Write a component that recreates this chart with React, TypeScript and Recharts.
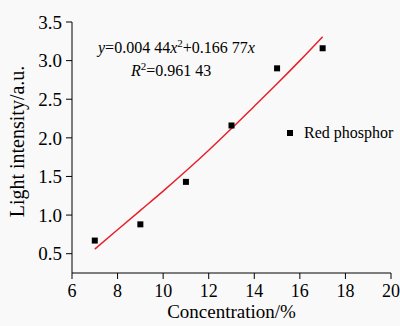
import React from "react";
import {
  ComposedChart,
  Line,
  Scatter,
  XAxis,
  YAxis,
} from "recharts";

// measured points
const concentration = [7, 9, 11, 13, 15, 17];
const intensity = [0.67, 0.88, 1.43, 2.16, 2.9, 3.16];

// fitted curve
const fitX = [7, 8, 9, 10, 11, 12, 13, 14, 15, 16, 17];
const fitY = [0.56, 0.81, 1.06, 1.31, 1.57, 1.84, 2.12, 2.41, 2.7, 3.0, 3.31];

const xTicks = [6, 8, 10, 12, 14, 16, 18, 20];
const yTicks = [0.5, 1.0, 1.5, 2.0, 2.5, 3.0, 3.5];

const points = concentration.map((x, i) => ({ x, y: intensity[i] }));
const fit = fitX.map((x, i) => ({ x, fit: fitY[i] }));

const FONT = "'Liberation Serif', 'Times New Roman', serif";

const Square = (props: any) => {
  const { cx, cy } = props;
  return <rect x={cx - 3} y={cy - 3} width={6} height={6} fill="#000" />;
};

const YLabel = (props: any) => {
  const vb = props.viewBox;
  const x = vb.x + 24;
  const y = vb.y + vb.height / 2 - 6;
  return (
    <text
      x={x}
      y={y}
      transform={`rotate(-90 ${x} ${y})`}
      textAnchor="middle"
      fontFamily={FONT}
      fontSize={20}
      fill="#000"
    >
      Light intensity/a.u.
    </text>
  );
};

const App: React.FC = () => {
  return (
    <div
      style={{
        position: "absolute",
        left: 0,
        top: 0,
        width: 400,
        height: 326,
        background: "#f9f9f9",
      }}
    >
      <ComposedChart
        width={400}
        height={326}
        margin={{ top: 22, right: 9, bottom: 0, left: 0 }}
      >
        <XAxis
          dataKey="x"
          type="number"
          domain={[6, 20]}
          ticks={xTicks}
          allowDataOverflow
          height={53}
          tickSize={6}
          tickMargin={5}
          stroke="#000"
          tick={{ fill: "#000", fontSize: 18, fontFamily: FONT }}
          label={{
            value: "Concentration/%",
            position: "insideBottom",
            offset: 8,
            fill: "#000",
            fontSize: 19,
            fontFamily: FONT,
          }}
        />
        <YAxis
          type="number"
          domain={[0.25, 3.5]}
          ticks={yTicks}
          allowDataOverflow
          width={72}
          tickSize={6}
          tickMargin={4}
          stroke="#000"
          tickFormatter={(v: number) => v.toFixed(1)}
          tick={{ fill: "#000", fontSize: 19, fontFamily: FONT }}
          label={<YLabel />}
        />
        <Line
          data={fit}
          dataKey="fit"
          type="monotone"
          stroke="#e8202a"
          strokeWidth={1.5}
          dot={false}
          activeDot={false}
          legendType="none"
          isAnimationActive={false}
        />
        <Scatter
          data={points}
          dataKey="y"
          name="Red phosphor"
          shape={<Square />}
          isAnimationActive={false}
        />
      </ComposedChart>
      <svg
        width={400}
        height={326}
        style={{ position: "absolute", left: 0, top: 0, pointerEvents: "none" }}
      >
        <text x={98} y={53} fontFamily={FONT} fontSize={16} fill="#000">
          <tspan fontStyle="italic">y</tspan>
          <tspan>=0.004 44</tspan>
          <tspan fontStyle="italic">x</tspan>
          <tspan dy={-6} fontSize={11}>2</tspan>
          <tspan dy={6}>+0.166 77</tspan>
          <tspan fontStyle="italic">x</tspan>
        </text>
        <text x={131} y={76} fontFamily={FONT} fontSize={16} fill="#000">
          <tspan fontStyle="italic">R</tspan>
          <tspan dy={-6} fontSize={11}>2</tspan>
          <tspan dy={6}>=0.961 43</tspan>
        </text>
        {/* legend */}
        <rect x={287} y={130} width={6} height={6} fill="#000" />
        <text x={304} y={138} fontFamily={FONT} fontSize={16} fill="#000">
          Red phosphor
        </text>
      </svg>
    </div>
  );
};

export default App;
